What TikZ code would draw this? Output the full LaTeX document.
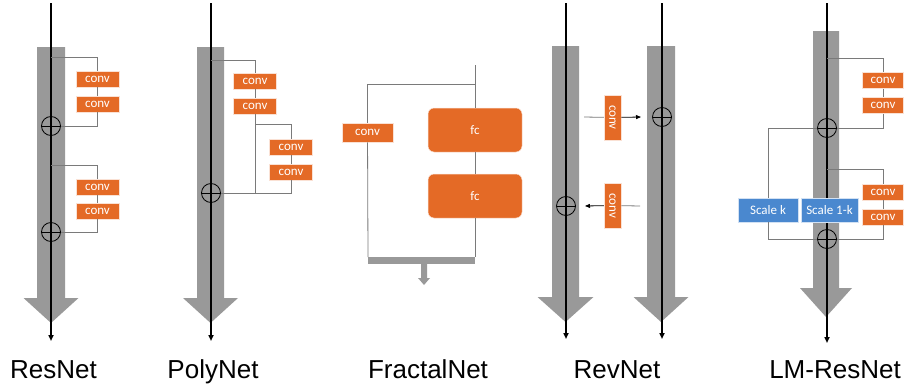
\documentclass[tikz,border=0pt]{standalone}
\usepackage{fontspec}
\setmainfont{Liberation Sans}
\newfontfamily\boxfont{Carlito}
\usetikzlibrary{arrows.meta}

\definecolor{convorange}{HTML}{E46A26}
\definecolor{scaleblue}{HTML}{4A88CF}
\definecolor{streamgray}{HTML}{999999}
\definecolor{wiregray}{HTML}{7A7A7A}

% wide gray stream arrow: x, top, head start, tip, half shaft, half head
\newcommand\streamarrow[6]{%
  \fill[streamgray] (#1-#5,#2) -- (#1+#5,#2) -- (#1+#5,#3) -- (#1+#6,#3)
    -- (#1,#4) -- (#1-#6,#3) -- (#1-#5,#3) -- cycle;}

\tikzset{
  convbox/.style={fill=convorange, draw=white!80!convorange, line width=0.5pt,
    text=white, font=\boxfont\fontsize{13}{13}\selectfont,
    minimum width=43, minimum height=16, inner sep=0pt},
  revconv/.style={convbox, minimum width=45, minimum height=17, rotate=-90},
  fcbox/.style={convbox, rounded corners=6pt, minimum width=94, minimum height=44},
  scalebox/.style={fill=scaleblue, draw=white!75!scaleblue, line width=0.5pt,
    text=white, font=\boxfont\fontsize{13}{13}\selectfont,
    minimum height=24, inner sep=0pt},
  sum/.style={circle, draw, line width=0.8pt, minimum size=19, inner sep=0pt,
    path picture={\draw[line width=0.8pt] (path picture bounding box.west)
      -- (path picture bounding box.east);}},
  wire/.style={draw=wiregray, line width=0.8pt},
  mainline/.style={line width=1.6pt, -{Triangle[length=6pt,width=5pt]}},
  netlabel/.style={anchor=base, font=\fontsize{26}{26}\selectfont}
}

\begin{document}
\begin{tikzpicture}[x=1pt, y=-1pt]
    \useasboundingbox (0,0) rectangle (910,388);

    % ResNet
    \streamarrow{51}{47}{298}{323}{14}{27.5}
    \coordinate (rs-in) at (51,3);
    \coordinate (rs-out) at (51,341);
    \draw[mainline] (rs-in) -- (rs-out);
    \coordinate (rs-b1) at (51,57);
    \node[convbox] (rs-c1) at (97.5,79) {conv};
    \node[convbox] (rs-c2) at (97.5,104) {conv};
    \node[sum] (rs-s1) at (51,126) {};
    \draw[wire] (rs-b1) -| (rs-c1);
    \draw[wire] (rs-c1) -- (rs-c2);
    \draw[wire] (rs-c2) |- (rs-s1);
    \coordinate (rs-b2) at (51,165);
    \node[convbox] (rs-c3) at (97.5,187) {conv};
    \node[convbox] (rs-c4) at (97.5,211) {conv};
    \node[sum] (rs-s2) at (51,232) {};
    \draw[wire] (rs-b2) -| (rs-c3);
    \draw[wire] (rs-c3) -- (rs-c4);
    \draw[wire] (rs-c4) |- (rs-s2);
    \node[netlabel] (rs-lab) at (53.5,378) {ResNet};

    % PolyNet
    \streamarrow{210.5}{47}{298}{323}{13.5}{27.5}
    \coordinate (pn-in) at (211,3);
    \coordinate (pn-out) at (211,341);
    \draw[mainline] (pn-in) -- (pn-out);
    \coordinate (pn-b1) at (211,60);
    \node[convbox] (pn-c1) at (255,81) {conv};
    \node[convbox] (pn-c2) at (255,106) {conv};
    \coordinate (pn-b2) at (255,124);
    \node[convbox] (pn-c3) at (291,147) {conv};
    \node[convbox] (pn-c4) at (291,172) {conv};
    \coordinate (pn-j) at (255,193);
    \node[sum] (pn-s1) at (211,193) {};
    \draw[wire] (pn-b1) -| (pn-c1);
    \draw[wire] (pn-c1) -- (pn-c2);
    \draw[wire] (pn-c2) -- (pn-j) -- (pn-s1);
    \draw[wire] (pn-b2) -| (pn-c3);
    \draw[wire] (pn-c3) -- (pn-c4);
    \draw[wire] (pn-c4) |- (pn-j);
    \node[netlabel] (pn-lab) at (213,378) {PolyNet};

    % FractalNet
    \coordinate (fn-in) at (475,65);
    \coordinate (fn-b) at (475,84);
    \node[fcbox] (fn-fc1) at (475,130) {fc};
    \node[fcbox] (fn-fc2) at (475,196) {fc};
    \coordinate (fn-j) at (475,257);
    \node[convbox, minimum width=51, minimum height=19] (fn-conv) at (367.5,132.5) {conv};
    \coordinate (fn-lj) at (368,257);
    \draw[wire] (fn-in) -- (fn-fc1);
    \draw[wire] (fn-fc1) -- (fn-fc2);
    \draw[wire] (fn-fc2) -- (fn-j);
    \draw[wire] (fn-b) -| (fn-conv);
    \draw[wire] (fn-conv) -- (fn-lj);
    \fill[streamgray] (fn-lj) rectangle ([yshift=-7pt]fn-j);
    \streamarrow{424}{264}{278}{285}{3}{6}
    \node[netlabel] (fn-lab) at (428,378) {FractalNet};

    % RevNet
    \streamarrow{565.5}{46}{297}{322}{13.5}{28}
    \streamarrow{661}{46}{297}{322}{14}{27.5}
    \coordinate (rv-lin) at (566,3);
    \coordinate (rv-lout) at (566,339);
    \coordinate (rv-rin) at (662,3);
    \coordinate (rv-rout) at (662,339);
    \draw[mainline] (rv-lin) -- (rv-lout);
    \draw[mainline] (rv-rin) -- (rv-rout);
    \coordinate (rv-f1) at (584,117);
    \node[revconv] (rv-c1) at (612.5,117.5) {conv};
    \coordinate (rv-t1) at (641,117);
    \node[sum] (rv-s1) at (662,117) {};
    \draw[wire] (rv-f1) -- (rv-c1);
    \draw[line width=0.8pt, -{Triangle[length=5pt,width=4pt]}] (rv-c1) -- (rv-t1);
    \coordinate (rv-f2) at (640,206);
    \node[revconv] (rv-c2) at (612.5,205.5) {conv};
    \coordinate (rv-t2) at (585,206);
    \node[sum] (rv-s2) at (566,206) {};
    \draw[wire] (rv-f2) -- (rv-c2);
    \draw[line width=0.8pt, -{Triangle[length=5pt,width=4pt]}] (rv-c2) -- (rv-t2);
    \node[netlabel] (rv-lab) at (617,378) {RevNet};

    % LM-ResNet
    \streamarrow{826}{31}{288}{317}{13}{26}
    \coordinate (lm-in) at (827,3);
    \coordinate (lm-out) at (827,343);
    \draw[mainline] (lm-in) -- (lm-out);
    \coordinate (lm-b1) at (827,58);
    \node[convbox, minimum width=41] (lm-c1) at (883,80.5) {conv};
    \node[convbox, minimum width=41] (lm-c2) at (883,105.5) {conv};
    \node[sum] (lm-s1) at (827,128) {};
    \draw[wire] (lm-b1) -| (lm-c1);
    \draw[wire] (lm-c1) -- (lm-c2);
    \draw[wire] (lm-c2) |- (lm-s1);
    \coordinate (lm-b2) at (827,169);
    \node[convbox, minimum width=41] (lm-c3) at (883,192) {conv};
    \node[convbox, minimum width=41] (lm-c4) at (883,217) {conv};
    \node[sum] (lm-s2) at (827,239) {};
    \draw[wire] (lm-b2) -| (lm-c3);
    \draw[wire] (lm-c3) -- (lm-c4);
    \draw[wire] (lm-c4) |- (lm-s2);
    \node[scalebox, minimum width=60] (lm-sk) at (768,210) {Scale k};
    \node[scalebox, minimum width=57] (lm-s1k) at (829.5,210) {Scale 1-k};
    \draw[wire] (lm-s1) -| (lm-sk);
    \draw[wire] (lm-sk) |- (lm-s2);
    \node[netlabel] (lm-lab) at (835,378) {LM-ResNet};
\end{tikzpicture}
\end{document}
